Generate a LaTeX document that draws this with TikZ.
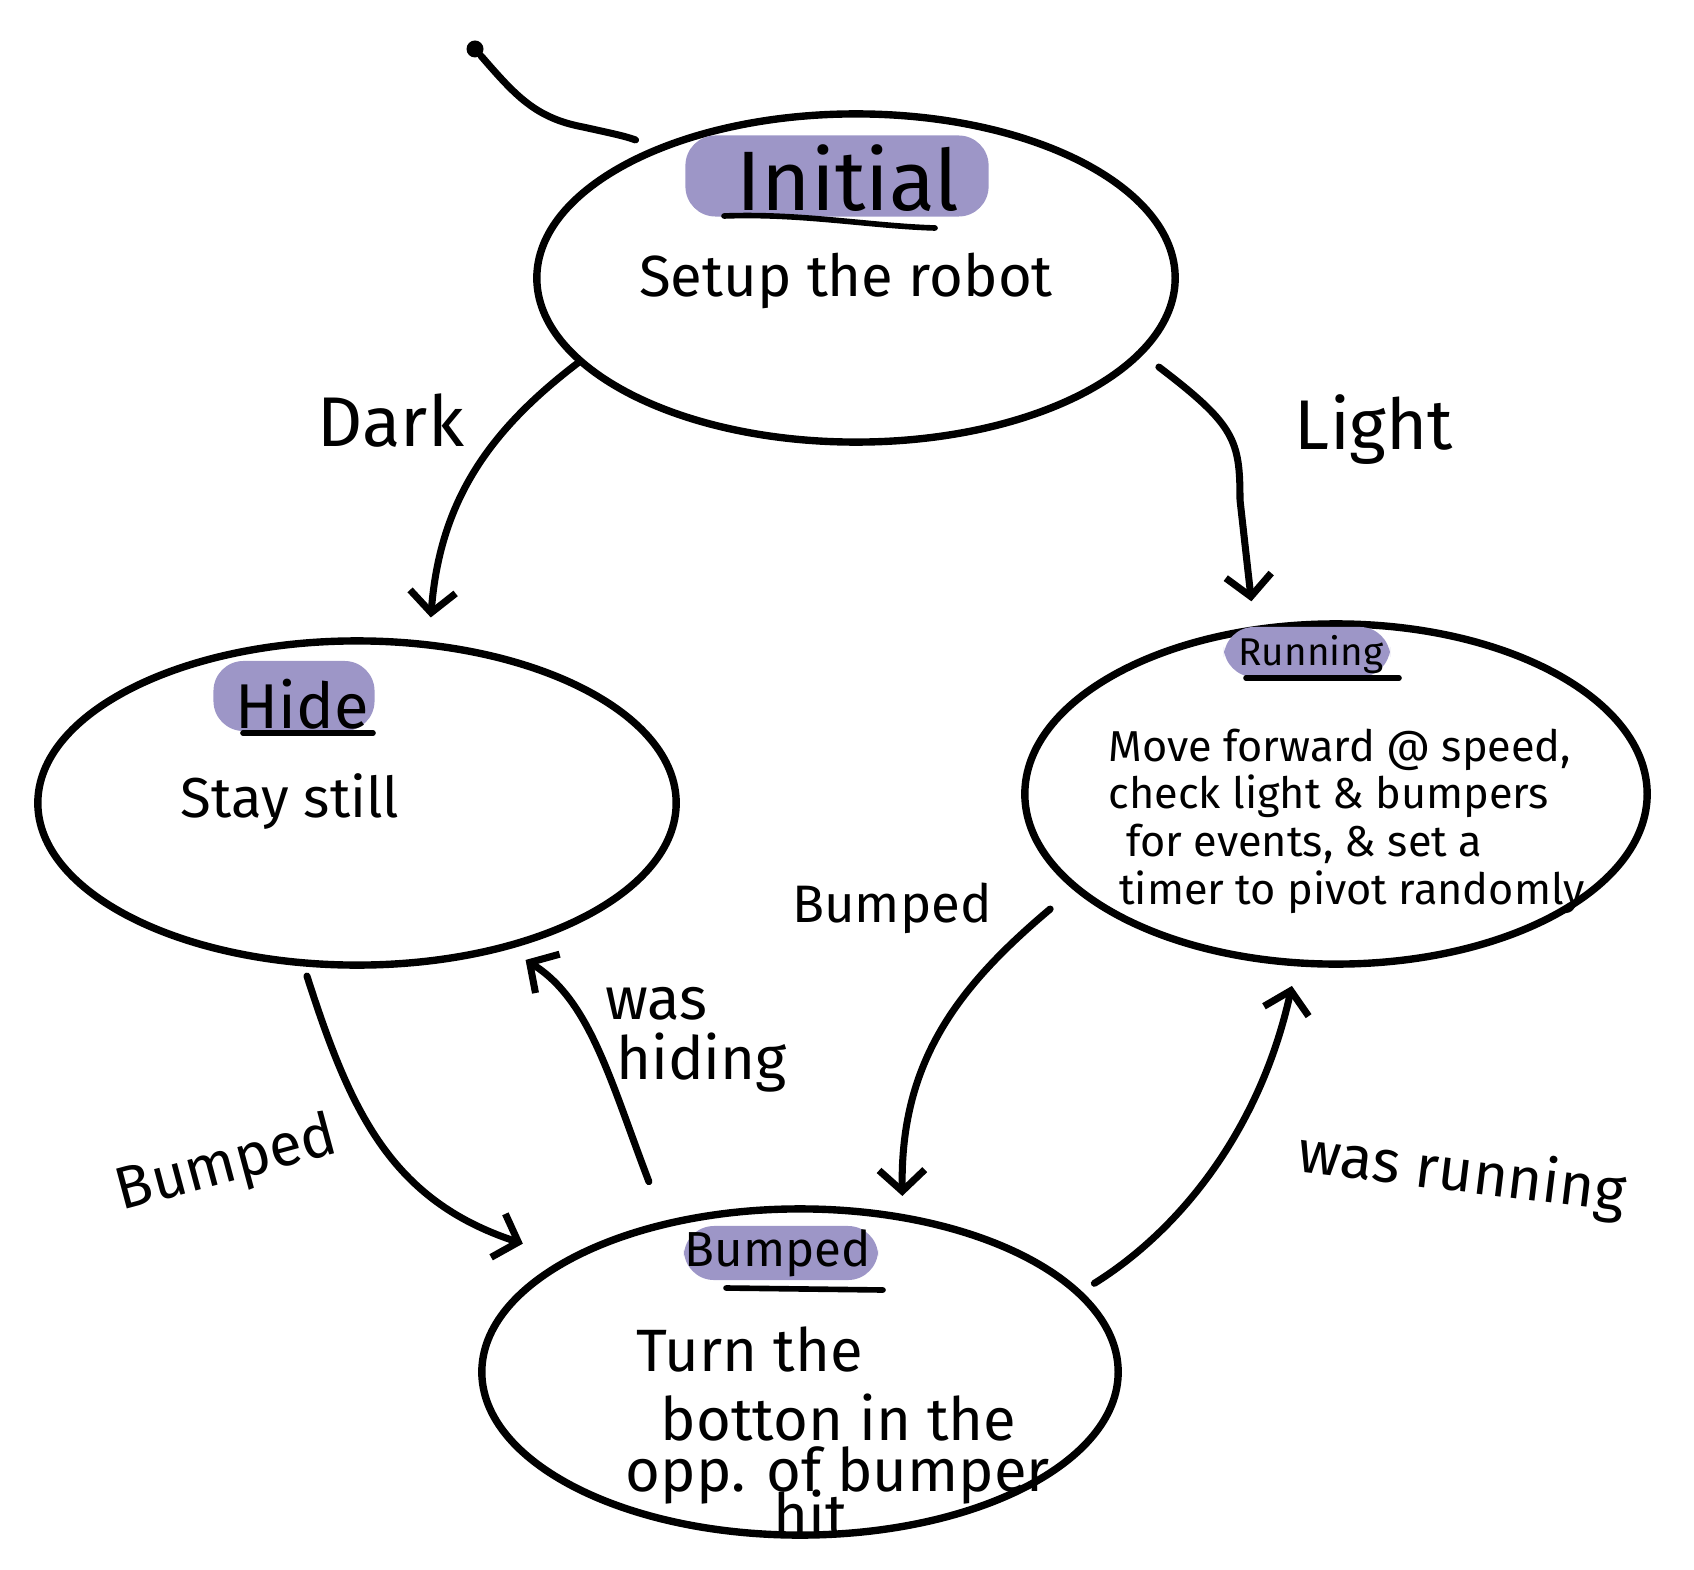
\documentclass[tikz,border=0pt]{standalone}
\usepackage{fontspec}
\setmainfont{Fira Sans}
\usetikzlibrary{shapes.geometric,arrows.meta}
\definecolor{hl}{HTML}{9D96C7}
\newcommand{\tightlines}{\lineskiplimit-100pt\relax}
\tikzset{
  statebox/.style={ellipse, draw, line width=2.1pt, inner sep=0pt},
  titlebox/.style={fill=hl, rounded corners=0.3cm, inner sep=0pt},
  trans/.style={line width=2pt, line cap=round, -{Straight Barb[length=6pt,width=13pt,line width=2pt]}},
  uline/.style={line width=1.6pt, line cap=round},
  lbl/.style={inner sep=0pt},
}
\begin{document}
\begin{tikzpicture}[x=0.01cm,y=-0.01cm]
\useasboundingbox (0,0) rectangle (1694,1570);

% states
\node[statebox, minimum width=6.38cm, minimum height=3.28cm] (init) at (856,278) {};
\node[statebox, minimum width=6.38cm, minimum height=3.24cm] (hide) at (357,803) {};
\node[statebox, minimum width=6.22cm, minimum height=3.40cm] (run) at (1336,794) {};
\node[statebox, minimum width=6.36cm, minimum height=3.26cm] (bump) at (800,1372) {};

% titles
\node[titlebox, minimum width=3.03cm, minimum height=0.81cm] (initT) at (837,176) {};
\node[lbl, font=\fontsize{24}{26}\selectfont] (initTx) at (848,178) {Initial};
\draw[uline] (724,216) .. controls (800,213) and (870,226) .. (935,228);
\node[lbl, font=\fontsize{16.5}{20}\selectfont] (initB) at (846,281) {Setup the robot};

\node[titlebox, minimum width=1.61cm, minimum height=0.70cm] (hideT) at (294,696) {};
\node[lbl, font=\fontsize{18}{20}\selectfont] (hideTx) at (302,704) {Hide};
\draw[uline] (243,733) -- (373,733);
\node[lbl, font=\fontsize{16}{18}\selectfont] (hideB) at (290,802) {Stay still};

\node[titlebox, minimum width=1.66cm, minimum height=0.50cm] (runT) at (1307,652) {};
\node[lbl, font=\fontsize{11}{13}\selectfont] (runTx) at (1311,655) {Running};
\draw[uline] (1246,678) -- (1399,678);
\node[lbl, font=\fontsize{12.3}{13.6}\selectfont, align=left, anchor=north west] (runB) at (1108,728)
  {Move forward @ speed,\\ check light \& bumpers\\ \hspace*{5pt}for events, \& set a\\ \hspace*{3pt}timer to pivot randomly};

\node[titlebox, minimum width=1.94cm, minimum height=0.54cm] (bumpT) at (781,1253) {};
\node[lbl, font=\fontsize{14}{16}\selectfont] (bumpTx) at (778,1253) {Bumped};
\draw[uline] (726,1288) -- (883,1290);
\node[lbl, font={\fontsize{17}{14.4}\selectfont\tightlines}, align=left, anchor=north west] (bumpB) at (625,1326)
  {\hspace*{3pt}Turn the\\[5.2pt] \hspace*{10pt}botton in the\\ opp. of bumper\\[-1.4pt] \hspace*{42pt}hit};

% initial marker
\node[circle, fill, minimum size=0.17cm, inner sep=0pt] (start) at (475,49) {};
\draw[line width=2pt, line cap=round, shorten >=0.2cm] (start) .. controls (515,95) and (535,118) .. (583,127) .. controls (610,133) and (625,136) .. (init.147);

% transitions
\draw[trans, shorten >=0.24cm] (init.197) .. controls (490,430) and (440,500) .. (hide.66);
\node[lbl, font=\fontsize{20}{22}\selectfont] (lDark) at (391,421) {Dark};

\draw[trans, shorten <=0.2cm, shorten >=0.25cm] (init.345) .. controls (1235,425) and (1240,440) .. (1240,500) -- (run.116);
\node[lbl, font=\fontsize{20}{22}\selectfont] (lLight) at (1374,430) {Light};

\draw[trans, shorten <=0.1cm, shorten >=0.45cm] (hide.252) .. controls (350,1110) and (390,1200) .. (bump.154);
\node[lbl, font=\fontsize{17}{20}\selectfont, rotate=15] (lBump1) at (227,1166) {Bumped};

\draw[trans, shorten <=0.42cm, shorten >=0.2cm] (bump.132) .. controls (610,1080) and (590,1000) .. (hide.316);
\node[lbl, font=\fontsize{17}{17}\selectfont, align=left, anchor=north west] (lHiding) at (605,987) {was\\ \hspace*{3pt}hiding};

\draw[trans, shorten <=0.3cm, shorten >=0.18cm] (run.200) .. controls (960,985) and (900,1060) .. (bump.57);
\node[lbl, font=\fontsize{15}{18}\selectfont] (lBump2) at (892,908) {Bumped};

\draw[trans, shorten <=0.15cm, shorten >=0.2cm] (bump.16) .. controls (1180,1230) and (1260,1130) .. (run.257);
\node[lbl, font=\fontsize{17}{20}\selectfont, rotate=-7] (lRun) at (1462,1175) {was running};
\end{tikzpicture}
\end{document}
